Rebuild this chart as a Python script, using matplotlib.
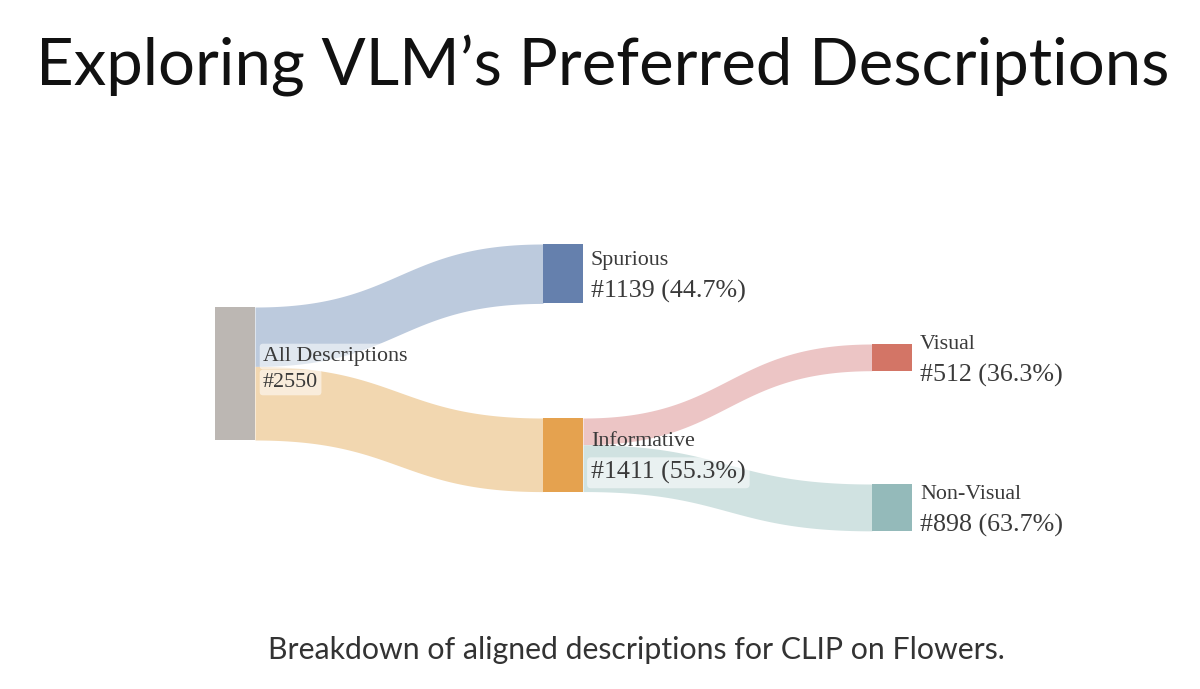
import numpy as np
import matplotlib.pyplot as plt
from matplotlib.patches import Rectangle

# node data
nodes = ["All Descriptions", "Spurious", "Informative", "Visual", "Non-Visual"]
counts = [2550, 1139, 1411, 512, 898]
pct_text = ["", "44.7%", "55.3%", "36.3%", "63.7%"]

# links (source index, target index, value)
src = [0, 0, 2, 2]
dst = [1, 2, 3, 4]
flow = [1139, 1411, 512, 898]

node_colors = ["#bcb7b3", "#6580ad", "#e5a24f", "#d37566", "#94baba"]
link_colors = ["#bccadd", "#f2d7b0", "#ecc5c5", "#d0e2e1"]

# layout (pixel space)
col_x = [215, 543, 543, 872, 872]
node_top = [307, 244, 418, 344, 484]
node_w = 40
scale = 133.0 / 2550  # px per description

fig = plt.figure(figsize=(12, 6.89), dpi=100)
ax = fig.add_axes([0, 0, 1, 1])
ax.set_xlim(0, 1200)
ax.set_ylim(689, 0)
ax.axis("off")

out_off = [0.0] * len(nodes)
in_off = [0.0] * len(nodes)
t = np.linspace(0, 1, 200)
for s, d, v, c in zip(src, dst, flow, link_colors):
    h = v * scale
    x0 = col_x[s] + node_w
    x1 = col_x[d]
    y0 = node_top[s] + out_off[s]
    y1 = node_top[d] + in_off[d]
    out_off[s] += h
    in_off[d] += h
    xs = x0 + (x1 - x0) * (1.5 * t * (1 - t) + t ** 3)
    ys = y0 + (y1 - y0) * (3 * t ** 2 - 2 * t ** 3)
    ax.fill_between(xs, ys, ys + h, color=c, lw=0, zorder=1)

for i, name in enumerate(nodes):
    h = counts[i] * scale
    ax.add_patch(Rectangle((col_x[i], node_top[i]), node_w, h,
                           color=node_colors[i], lw=0, zorder=2))

box = dict(boxstyle="round,pad=0.15", fc="white", ec="none", alpha=0.55)
serif = "Liberation Serif"
tc = "#3a3a3a"
for i, name in enumerate(nodes):
    cy = node_top[i] + counts[i] * scale / 2
    if i == 0:
        ax.text(263, cy - 17, name, fontsize=15.8, family=serif, color=tc,
                va="center", ha="left", bbox=box, zorder=3)
        ax.text(263, cy + 9, "#%d" % counts[i], fontsize=15.8, family=serif,
                color=tc, va="center", ha="left", bbox=box, zorder=3)
    else:
        x = col_x[i] + node_w + 8
        second = "#%d (%s)" % (counts[i], pct_text[i])
        ax.text(x, cy - 13, name, fontsize=15.8, family=serif, color=tc,
                va="center", ha="left", zorder=3)
        ax.text(x, cy + 18, second, fontsize=18.7, family=serif, color=tc,
                va="center", ha="left", zorder=3,
                bbox=box if i == 2 else None)

fig.text(0.5025, 1 - 66 / 689, "Exploring VLM\u2019s Preferred Descriptions",
         fontsize=47, family="Lato", ha="center", va="center",
         color="#111111")
fig.text(0.53, 1 - 650 / 689,
         "Breakdown of aligned descriptions for CLIP on Flowers.",
         fontsize=21.8, family="Lato", ha="center", va="center",
         color="#333333")

fig.savefig("out.png", dpi=100)
